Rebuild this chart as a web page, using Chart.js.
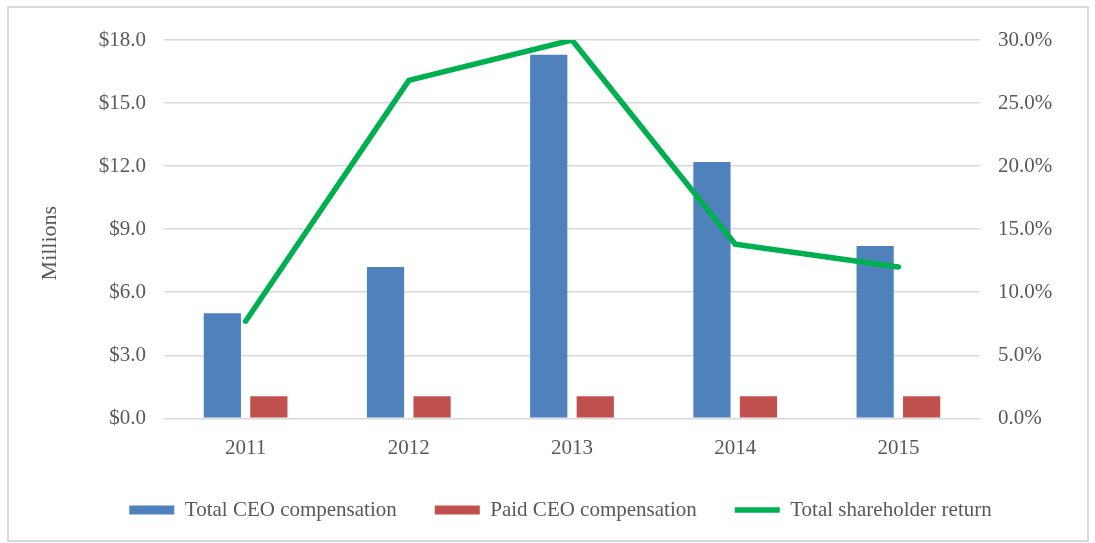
<!DOCTYPE html>
<html>
<head>
<meta charset="utf-8">
<script src="https://cdn.jsdelivr.net/npm/chart.js@4.4.0/dist/chart.umd.min.js"></script>
<style>
  html, body { margin: 0; padding: 0; background: #fff; }
  #wrap { position: relative; width: 1095px; height: 543px; }
  #frame { position: absolute; left: 7px; top: 6px; width: 1082px; height: 536px; box-sizing: border-box; border: 2px solid #d9d9d9; }
  #chart { position: absolute; left: 0; top: 0; }
</style>
</head>
<body>
<div id="wrap">
  <div id="frame"></div>
  <canvas id="chart" width="1095" height="543"></canvas>
</div>
<script>
'use strict';

// data
const years = ['2011', '2012', '2013', '2014', '2015'];
const totalComp = [5.0, 7.2, 17.3, 12.2, 8.2];          // $ millions
const paidComp = [1.05, 1.05, 1.05, 1.05, 1.05];        // $ millions
const shareholderReturn = [7.7, 26.8, 30.0, 13.8, 12.0]; // percent
const moneyTicks = [0, 3, 6, 9, 12, 15, 18];
const pctTicks = [0, 5, 10, 15, 20, 25, 30];

const GREY = '#595959';
const SERIF = '"Liberation Serif", "Times New Roman", serif';

Chart.defaults.font.family = SERIF;
Chart.defaults.font.size = 21;
Chart.defaults.color = GREY;

// rotated "Millions" label, sits a bit lower than the plot centre like the original
const millionsTitle = {
  id: 'millionsTitle',
  afterDraw: function(chart) {
    const ctx = chart.ctx;
    const area = chart.chartArea;
    const s = chart.scales.y;
    ctx.save();
    ctx.translate(s.left + 24, (area.top + area.bottom) / 2 + 14);
    ctx.rotate(-Math.PI / 2);
    ctx.font = '22px ' + SERIF;
    ctx.fillStyle = GREY;
    ctx.textAlign = 'center';
    ctx.textBaseline = 'middle';
    ctx.fillText('Millions', 0, 0);
    ctx.restore();
  }
};

new Chart(document.getElementById('chart'), {
  type: 'bar',
  data: {
    labels: years,
    datasets: [
      {
        label: 'Total CEO compensation',
        data: totalComp,
        backgroundColor: '#4f81bd',
        pointStyle: 'rect',
        yAxisID: 'y',
        categoryPercentage: 0.57,
        barPercentage: 0.8
      },
      {
        label: 'Paid CEO compensation',
        data: paidComp,
        backgroundColor: '#c0504d',
        pointStyle: 'rect',
        yAxisID: 'y',
        categoryPercentage: 0.57,
        barPercentage: 0.8
      },
      {
        type: 'line',
        label: 'Total shareholder return',
        data: shareholderReturn,
        borderColor: '#00b050',
        backgroundColor: '#00b050',
        borderWidth: 5.5,
        borderCapStyle: 'round',
        pointRadius: 0,
        pointStyle: 'line',
        tension: 0,
        yAxisID: 'y1',
        order: -1
      }
    ]
  },
  options: {
    responsive: false,
    animation: false,
    layout: { padding: { left: 26, right: 0, top: 40, bottom: 12.5 } },
    plugins: {
      tooltip: { enabled: false },
      legend: {
        position: 'bottom',
        labels: {
          usePointStyle: true,
          pointStyleWidth: 45,
          boxHeight: 9,
          padding: 38,
          font: { size: 21 },
          color: GREY,
          sort: function(a, b) { return a.datasetIndex - b.datasetIndex; }
        }
      }
    },
    scales: {
      x: {
        grid: { display: false },
        border: { display: false },
        ticks: { padding: 10, maxRotation: 0 },
        afterFit: function(scale) { scale.height = 43.2; }
      },
      y: {
        position: 'left',
        min: 0,
        max: 18,
        grid: { color: '#d9d9d9', lineWidth: 1.5, drawTicks: false },
        border: { display: false },
        ticks: {
          padding: 18,
          callback: function(v) { return '$' + v.toFixed(1); }
        },
        afterBuildTicks: function(scale) {
          scale.ticks = moneyTicks.map(function(v) { return { value: v }; });
        },
        afterFit: function(scale) { scale.width = 138; }
      },
      y1: {
        position: 'right',
        min: 0,
        max: 30,
        grid: { display: false, drawTicks: false },
        border: { display: false },
        ticks: {
          padding: 18,
          callback: function(v) { return v.toFixed(1) + '%'; }
        },
        afterBuildTicks: function(scale) {
          scale.ticks = pctTicks.map(function(v) { return { value: v }; });
        },
        afterFit: function(scale) { scale.width = 115; }
      }
    }
  },
  plugins: [millionsTitle]
});
</script>
</body>
</html>
